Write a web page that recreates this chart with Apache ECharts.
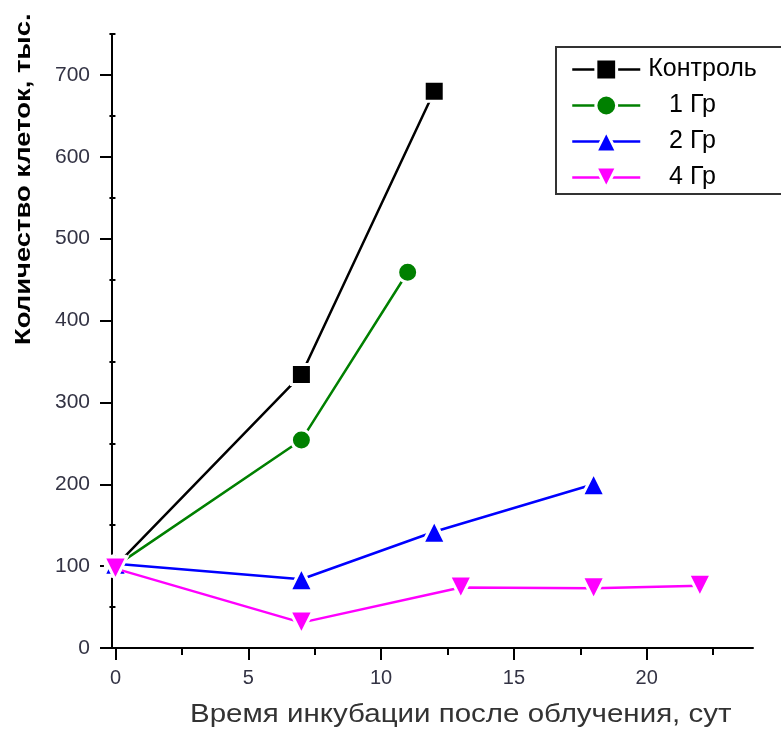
<!DOCTYPE html>
<html>
<head>
<meta charset="utf-8">
<script src="https://cdn.jsdelivr.net/npm/echarts@6/dist/echarts.min.js"></script>
<style>
html,body{margin:0;padding:0;background:#fff;}
#chart{width:781px;height:732px;}
</style>
</head>
<body>
<div id="chart"></div>
<script>
// Data (days, thousand cells)
const seriesNames = ['Контроль', '1 Гр', '2 Гр', '4 Гр'];
const controlData = [[0, 100], [7, 334], [12, 680]];
const gr1Data = [[0, 100], [7, 254], [11, 459]];
const gr2Data = [[0, 103], [7, 84], [12, 142], [18, 200]];
const gr4Data = [[0, 97], [7, 31], [13, 74], [18, 73], [22, 76]];
const xMajorTicks = [0, 5, 10, 15, 20];
const xMinorTicks = [2.5, 7.5, 12.5, 17.5, 22.5];
const yMajorTicks = [0, 100, 200, 300, 400, 500, 600, 700];
const yMinorTicks = [50, 150, 250, 350, 450, 550, 650, 750];
const xTitle = 'Время инкубации после облучения, сут';
const yTitle = 'Количество клеток, тыс.';

const colors = ['#000000', '#008000', '#0000ff', '#ff00ff'];
const symbols = ['rect', 'circle', 'triangle', 'path://M0,0 L10,0 L5,9 Z'];
const sizes = [20, 20, 23, 23];
const datasets = [controlData, gr1Data, gr2Data, gr4Data];

const chart = echarts.init(document.getElementById('chart'), null, {renderer: 'canvas'});
const FONT = 'Liberation Sans, Arial, sans-serif';
const xRange = {min: -0.13, max: 24};
const yRange = {min: 0, max: 750};

const series = datasets.map((d, i) => ({
  name: seriesNames[i],
  type: 'line',
  data: d,
  xAxisIndex: 0,
  yAxisIndex: 0,
  symbol: symbols[i],
  symbolSize: sizes[i],
  lineStyle: {color: colors[i], width: 2.5},
  itemStyle: {color: colors[i], borderColor: '#ffffff', borderWidth: 3},
  emphasis: {disabled: true},
  animation: false,
  z: 2 + i
}));

const option = {
  backgroundColor: '#ffffff',
  animation: false,
  grid: {left: 112, right: 28, top: 34, bottom: 84, containLabel: false},
  xAxis: [{
    type: 'value', min: xRange.min, max: xRange.max, position: 'bottom',
    axisLine: {show: true, onZero: false, lineStyle: {color: '#000', width: 2}},
    axisTick: {show: true, inside: false, length: 12, customValues: xMajorTicks, lineStyle: {color: '#000', width: 2}},
    axisLabel: {show: true, customValues: xMajorTicks, margin: 20, fontSize: 20, color: '#333344', fontFamily: FONT},
    splitLine: {show: false}
  }, {
    type: 'value', min: xRange.min, max: xRange.max, position: 'bottom',
    axisLine: {show: false},
    axisTick: {show: true, inside: false, length: 7, customValues: xMinorTicks, lineStyle: {color: '#000', width: 2}},
    axisLabel: {show: false},
    splitLine: {show: false}
  }],
  yAxis: [{
    type: 'value', min: yRange.min, max: yRange.max, position: 'left',
    axisLine: {show: true, onZero: false, lineStyle: {color: '#000', width: 2}},
    axisTick: {show: true, inside: false, length: 12, customValues: yMajorTicks, lineStyle: {color: '#000', width: 2}},
    axisLabel: {show: true, customValues: yMajorTicks, margin: 22, fontSize: 21, color: '#333344', fontFamily: FONT},
    splitLine: {show: false}
  }, {
    type: 'value', min: yRange.min, max: yRange.max, position: 'left',
    axisLine: {show: false},
    axisTick: {show: true, inside: false, length: 6, customValues: yMinorTicks, lineStyle: {color: '#000', width: 2}},
    axisLabel: {show: false},
    splitLine: {show: false}
  }],
  legend: {
    show: true,
    orient: 'vertical',
    left: 556, top: 47,
    padding: [10, 40, 4, 15],
    itemWidth: 68, itemHeight: 26, itemGap: 11,
    borderColor: '#333', borderWidth: 2,
    data: seriesNames,
    itemStyle: {borderColor: '#ffffff', borderWidth: 3},
    lineStyle: {width: 2.5},
    formatter: n => (n === 'Контроль' ? n : '   ' + n),
    textStyle: {fontSize: 25, lineHeight: 24, color: '#000', fontFamily: FONT, padding: [0, 0, 0, 3]}
  },
  graphic: [{
    type: 'text', x: 190, y: 703, scaleX: 1.18,
    style: {text: xTitle, fill: '#333', font: '25px Liberation Sans, Arial, sans-serif'}
  }, {
    type: 'text', x: 13, y: 345, rotation: Math.PI / 2, scaleX: 1.245,
    style: {text: yTitle, fill: '#000', font: 'bold 22px Liberation Sans, Arial, sans-serif'}
  }],
  series: series
};
chart.setOption(option);
</script>
</body>
</html>
